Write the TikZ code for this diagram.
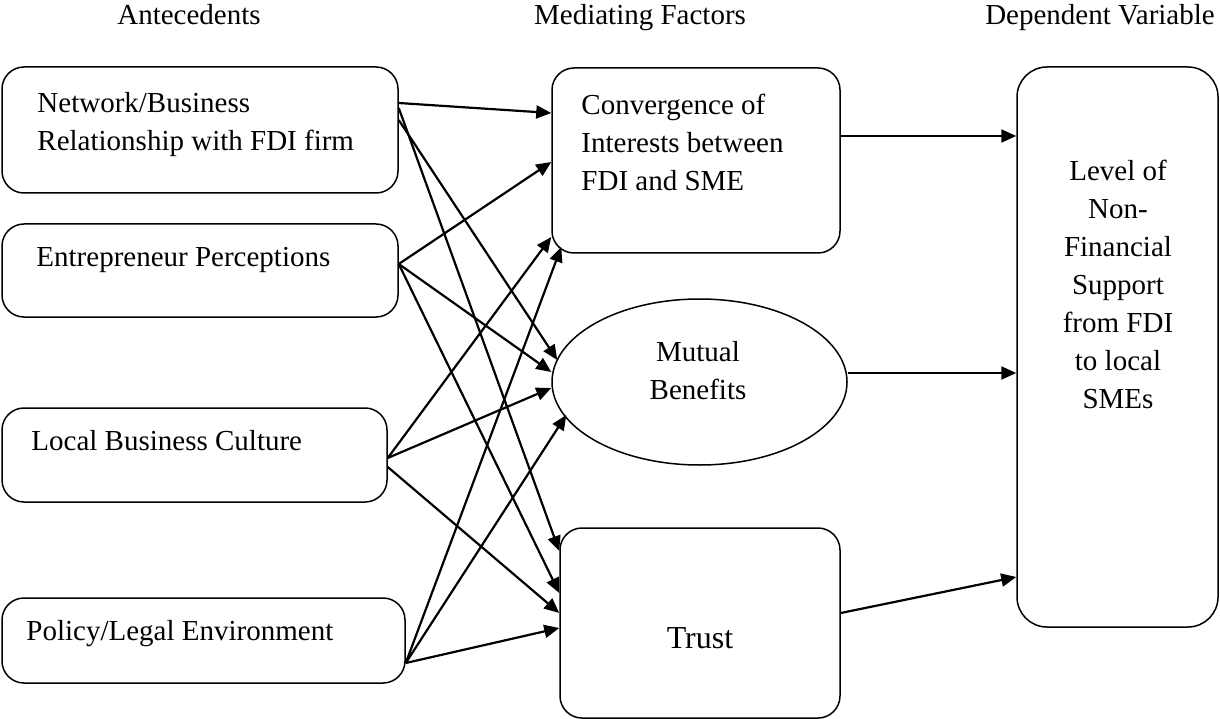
\documentclass[tikz,border=0pt]{standalone}
\usepackage{fontspec}
\setmainfont{Liberation Serif}
\usetikzlibrary{arrows.meta,shapes.geometric}

\begin{document}
\begin{tikzpicture}[x=1pt,y=-1pt]
			\tikzstyle{box}=[draw, line width=1.5pt, rounded corners=22pt, inner sep=0pt]
			\tikzstyle{oval}=[draw, ellipse, line width=1.5pt, inner sep=0pt]
			\tikzstyle{txt}=[inner sep=0pt, align=left, font=\fontsize{29}{38}\selectfont]
			\tikzstyle{link}=[line width=2.2pt, -{Triangle[length=15pt,width=13pt]}]
			
			\useasboundingbox (0,0) rectangle (1220,719);
			
			\node[txt, anchor=base] (h1) at (189,25) {Antecedents};
			\node[txt, anchor=base] (h2) at (640,25) {Mediating Factors};
			\node[txt, anchor=base] (h3) at (1100,25) {Dependent Variable};
			
			\node[box, minimum width=396pt, minimum height=126pt] (a1) at (200,130) {};
			\node[box, minimum width=396pt, minimum height=93pt] (a2) at (200,270.5) {};
			\node[box, minimum width=385pt, minimum height=94pt] (a3) at (194.5,455) {};
			\node[box, minimum width=403pt, minimum height=85pt] (a4) at (203.5,640.5) {};
			
			\node[box, minimum width=288pt, minimum height=185pt] (m1) at (696,160.5) {};
			\node[oval, minimum width=295pt, minimum height=166pt] (m2) at (699.5,382) {};
			\node[box, minimum width=280pt, minimum height=190pt] (m3) at (700,623) {};
			
			\node[box, rounded corners=30pt, minimum width=201pt, minimum height=560pt] (d) at (1117.5,347) {};
			
			\node[txt, anchor=north west] (a1t) at ([shift={(36,26)}]a1.north west) {Network/Business\\Relationship with FDI firm};
			\node[txt, anchor=north west] (a2t) at ([shift={(35,23.5)}]a2.north west) {Entrepreneur Perceptions};
			\node[txt, anchor=north west] (a3t) at ([shift={(30,22.5)}]a3.north west) {Local Business Culture};
			\node[txt, anchor=north west] (a4t) at ([shift={(25,22.5)}]a4.north west) {Policy/Legal Environment};
			\node[txt, anchor=north west] (m1t) at ([shift={(30,27)}]m1.north west) {Convergence of\\Interests between\\FDI and SME};
			\node[txt, align=center, anchor=north] (m2t) at ([shift={(-1.5,43)}]m2.north) {Mutual\\Benefits};
			\node[txt, anchor=base, font=\fontsize{32}{38}\selectfont] (m3t) at ([shift={(0,25)}]m3.center) {Trust};
			\node[txt, align=center, anchor=north] (dt) at ([shift={(0.5,94)}]d.north) {Level of\\Non-\\Financial\\Support\\from FDI\\to local\\SMEs};
			
			\draw[link] ([yshift=27]a1.east) -- ([yshift=47.5]m1.west);
			\draw[link] ([yshift=10]a1.east) -- ([xshift=6,yshift=22]m2.west);
			\draw[link] ([yshift=22]a1.east) -- ([yshift=72]m3.west);
			
			\draw[link] ([yshift=6.5]a2.east) -- ([yshift=-1.5]m1.west);
			\draw[link] ([yshift=6.5]a2.east) -- ([yshift=10]m2.west);
			\draw[link] ([yshift=6.5]a2.east) -- ([yshift=30]m3.west);
			
			\draw[link] ([yshift=-3]a3.east) -- ([yshift=-76.5]m1.west);
			\draw[link] ([yshift=-3]a3.east) -- ([yshift=-6]m2.west);
			\draw[link] ([yshift=-12]a3.east) -- ([yshift=10]m3.west);
			
			\draw[link] ([yshift=-22.5]a4.east) -- ([xshift=10,yshift=-86.5]m1.west);
			\draw[link] ([yshift=-22.5]a4.east) -- ([xshift=15,yshift=-33]m2.west);
			\draw[link] ([yshift=-22.5]a4.east) -- ([yshift=-5]m3.west);
			
			\coordinate (m1out) at ([yshift=24.5]m1.east);
			\coordinate (m2out) at ([yshift=9]m2.east);
			\draw[link] (m1out) -- (m1out -| d.west);
			\draw[link] (m2out) -- (m2out -| d.west);
			\draw[link] ([yshift=10]m3.east) -- ([yshift=-230]d.west);
\end{tikzpicture}
\end{document}
